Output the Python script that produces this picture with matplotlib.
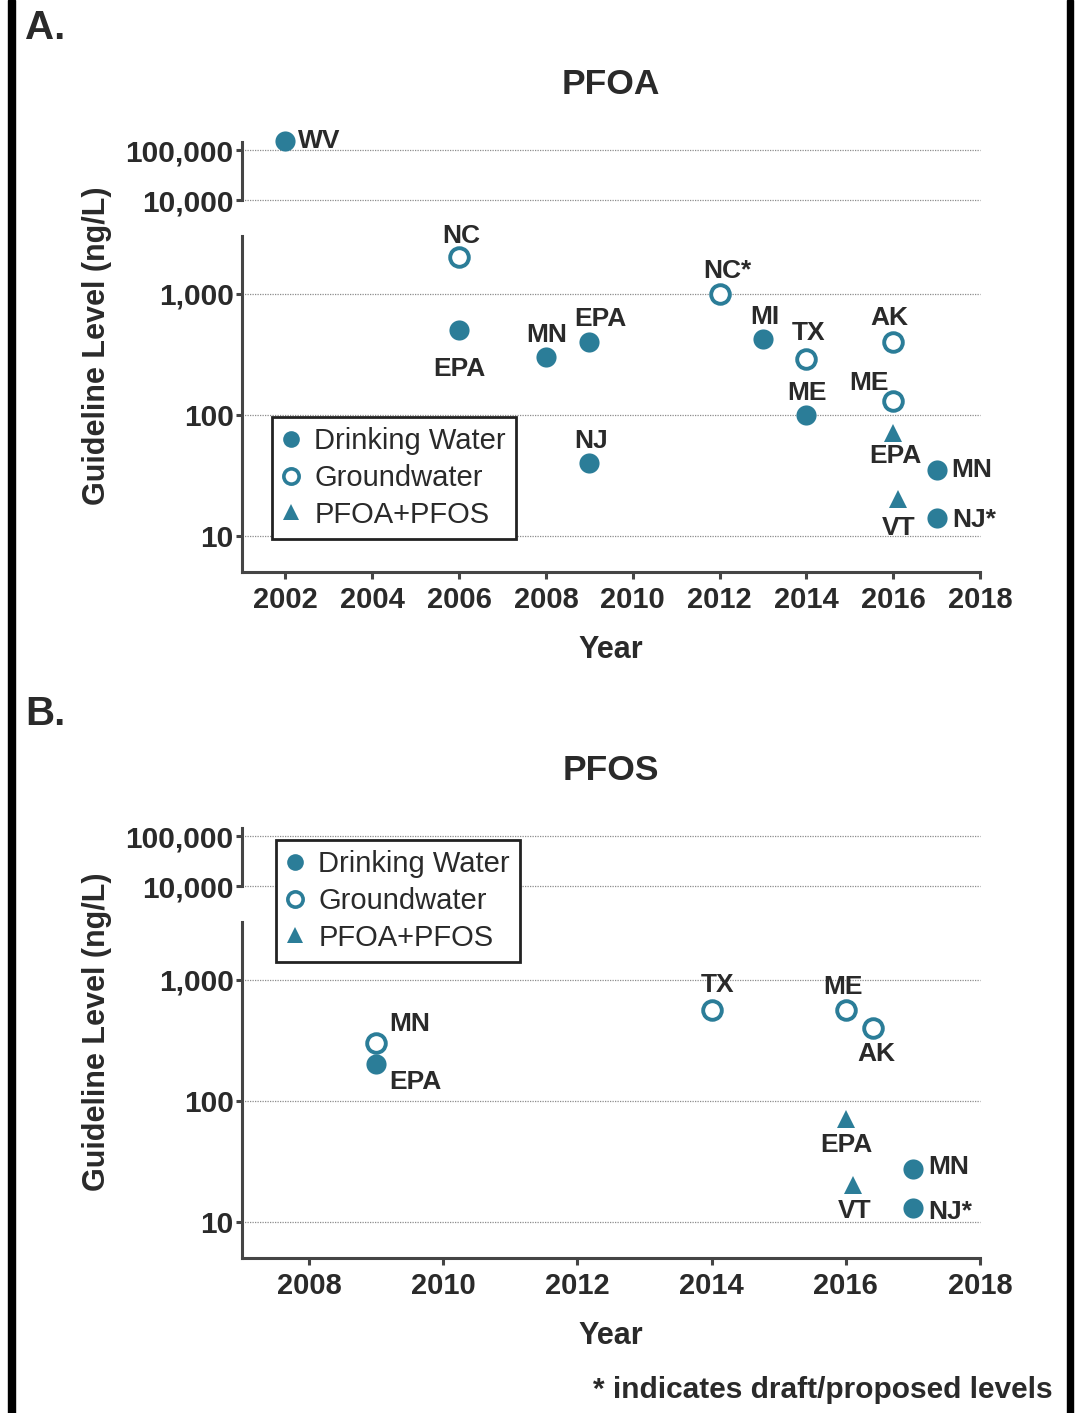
import matplotlib
matplotlib.use('Agg')
import matplotlib.pyplot as plt
from matplotlib.ticker import FixedLocator, NullLocator, FixedFormatter
from matplotlib.lines import Line2D
from matplotlib.patches import Rectangle

plt.rcParams['font.family'] = ['Liberation Sans', 'DejaVu Sans']

TEAL = '#2b7d98'
INK = '#2a2a2a'
SPINE = '#454545'
GRID = '#8c8c8c'

# ---------------- data ----------------
pfoa_labels = ['WV', 'NC', 'EPA', 'MN', 'EPA', 'NJ', 'NC*', 'MI', 'TX', 'ME',
               'AK', 'ME', 'EPA', 'VT', 'MN', 'NJ*']
pfoa_years = [2002, 2006, 2006, 2008, 2009, 2009, 2012, 2013, 2014, 2014,
              2016, 2016, 2016, 2016.1, 2017, 2017]
pfoa_values = [150000, 2000, 500, 300, 400, 40, 1000, 420, 290, 100,
               400, 130, 70, 20, 35, 14]
pfoa_types = ['dw', 'gw', 'dw', 'dw', 'dw', 'dw', 'gw', 'dw', 'gw', 'dw',
              'gw', 'gw', 'combo', 'combo', 'dw', 'dw']

pfos_labels = ['MN', 'EPA', 'TX', 'ME', 'AK', 'EPA', 'VT', 'MN', 'NJ*']
pfos_years = [2009, 2009, 2014, 2016, 2016.4, 2016, 2016.1, 2017, 2017]
pfos_values = [300, 200, 560, 560, 400, 70, 20, 27, 13]
pfos_types = ['gw', 'dw', 'gw', 'gw', 'gw', 'combo', 'combo', 'dw', 'dw']

pfoa_xticks = [2002, 2004, 2006, 2008, 2010, 2012, 2014, 2016, 2018]
pfos_xticks = [2008, 2010, 2012, 2014, 2016, 2018]
hi_ticks = [10000, 100000]
lo_ticks = [10, 100, 1000]
legend_names = ['Drinking Water', 'Groundwater', 'PFOA+PFOS']

# ---------------- label layout (pixel offsets, alignment) ----------------
pfoa_label_pos = [(13, 0, 'left'), (2, 21, 'center'), (0, -39, 'center'),
                  (1, 22, 'center'), (11, 23, 'center'), (2, 22, 'center'),
                  (8, 23, 'center'), (2, 22, 'center'), (2, 26, 'center'),
                  (1, 22, 'center'), (-4, 24, 'center'), (-24, 18, 'center'),
                  (2, -23, 'center'), (1, -29, 'center'), (15, 0, 'left'),
                  (16, -2, 'left')]
pfos_label_pos = [(13, 19, 'left'), (13, -18, 'left'), (6, 25, 'center'),
                  (-3, 23, 'center'), (4, -26, 'center'), (1, -26, 'center'),
                  (2, -26, 'center'), (15, 2, 'left'), (15, -4, 'left')]

W, H = 1082, 1413
fig = plt.figure(figsize=(W / 100, H / 100), dpi=100)

# side borders
fig.patches.append(Rectangle((8 / W, 0), 7 / W, 1, transform=fig.transFigure,
                             color='black', zorder=10))
fig.patches.append(Rectangle((1067 / W, 0), 6 / W, 1, transform=fig.transFigure,
                             color='black', zorder=10))

style = {
    'dw': dict(marker='o', ms=14.5, mfc=TEAL, mec=TEAL, mew=0),
    'gw': dict(marker='o', ms=13.4, mfc='white', mec=TEAL, mew=2.8),
    'combo': dict(marker='^', ms=13, mfc=TEAL, mec=TEAL, mew=0),
}


def fmt(v):
    return '{:,}'.format(int(v))


def style_axis(ax, xlim, ylim, yticks, show_x, xticks=None):
    ax.set_xlim(*xlim)
    ax.set_yscale('log')
    ax.set_ylim(*ylim)
    ax.patch.set_alpha(0)
    for s in ['top', 'right']:
        ax.spines[s].set_visible(False)
    ax.spines['left'].set_color(SPINE)
    ax.spines['left'].set_linewidth(2.2)
    ax.spines['bottom'].set_color(SPINE)
    ax.spines['bottom'].set_linewidth(2.2)
    ax.yaxis.set_major_locator(FixedLocator(yticks))
    ax.yaxis.set_major_formatter(FixedFormatter([fmt(v) for v in yticks]))
    ax.yaxis.set_minor_locator(NullLocator())
    ax.tick_params(axis='y', length=4, width=2.2, color=SPINE, pad=2,
                   labelsize=21.5, labelcolor=INK)
    for t in ax.get_yticklabels():
        t.set_fontweight('bold')
    ax.grid(axis='y', linestyle=(0, (1, 1)), color=GRID, linewidth=0.9)
    ax.grid(axis='x', visible=False)
    for gl in ax.get_ygridlines():
        gl.set_clip_on(False)
    ax.set_axisbelow(True)
    if show_x:
        ax.xaxis.set_major_locator(FixedLocator(xticks))
        ax.xaxis.set_minor_locator(NullLocator())
        ax.tick_params(axis='x', length=5, width=2.2, color=SPINE, pad=5,
                       labelsize=21, labelcolor=INK)
        for t in ax.get_xticklabels():
            t.set_fontweight('bold')
    else:
        ax.spines['bottom'].set_visible(False)
        ax.set_xticks([])


def panel(top, xlim, xticks, labels, years, values, types, label_pos,
          title, letter, legend_xy):
    left, right = 242, 980
    hi_top, hi_bot = top + 142, top + 200
    lo_top, lo_bot = top + 236, top + 572
    ax_hi = fig.add_axes([left / W, 1 - hi_bot / H, (right - left) / W,
                          (hi_bot - hi_top) / H])
    ax_lo = fig.add_axes([left / W, 1 - lo_bot / H, (right - left) / W,
                          (lo_bot - lo_top) / H])
    style_axis(ax_hi, xlim, (1e4, 1.45e5), hi_ticks, False)
    style_axis(ax_lo, xlim, (5, 3000), lo_ticks, True, xticks)

    for lab, x, v, t, (dx, dy, ha) in zip(labels, years, values, types, label_pos):
        ax = ax_hi if v >= 1e4 else ax_lo
        ax.plot([x], [v], linestyle='none', clip_on=False, zorder=5, **style[t])
        ax.annotate(lab, (x, v), xytext=(dx, dy), textcoords='offset pixels',
                    ha=ha, va='center', fontsize=19, fontweight='bold',
                    color=INK, zorder=6, annotation_clip=False)

    fig.text(611 / W, 1 - (top + 85) / H, title, ha='center', va='center',
             fontsize=25.5, fontweight='bold', color=INK)
    fig.text(25 / W, 1 - (top + 28) / H, letter, ha='left', va='center',
             fontsize=29, fontweight='bold', color=INK)
    fig.text(611 / W, 1 - (top + 650) / H, 'Year', ha='center', va='center',
             fontsize=22, fontweight='bold', color=INK)
    fig.text(97 / W, 1 - (top + 346) / H, 'Guideline Level (ng/L)', ha='center',
             va='center', rotation=90, fontsize=22, fontweight='bold', color=INK)

    handles = [Line2D([], [], linestyle='none', **dict(style['dw'], ms=12)),
               Line2D([], [], linestyle='none', **dict(style['gw'], ms=11, mew=2.6)),
               Line2D([], [], linestyle='none', **dict(style['combo'], ms=11))]
    leg = fig.legend(handles, legend_names, loc='upper left',
                     bbox_to_anchor=(legend_xy[0] / W, 1 - (top + legend_xy[1]) / H),
                     bbox_transform=fig.transFigure, frameon=True, fancybox=False,
                     edgecolor='#222222', framealpha=1,
                     borderpad=0.35, handletextpad=0.5, labelspacing=0.3,
                     handlelength=0.6, borderaxespad=0, prop={'size': 21})
    leg.get_frame().set_linewidth(2.0)
    for t in leg.get_texts():
        t.set_color(INK)


panel(0, (2001, 2018), pfoa_xticks, pfoa_labels, pfoa_years, pfoa_values,
      pfoa_types, pfoa_label_pos, 'PFOA', 'A.', (272, 417))
panel(686, (2007, 2018), pfos_xticks, pfos_labels, pfos_years, pfos_values,
      pfos_types, pfos_label_pos, 'PFOS', 'B.', (276, 154))

fig.text(1053 / W, 1 - 1390 / H, '* indicates draft/proposed levels', ha='right',
         va='center', fontsize=21.5, fontweight='bold', color=INK)

fig.savefig('out.png', dpi=100, facecolor='white')
